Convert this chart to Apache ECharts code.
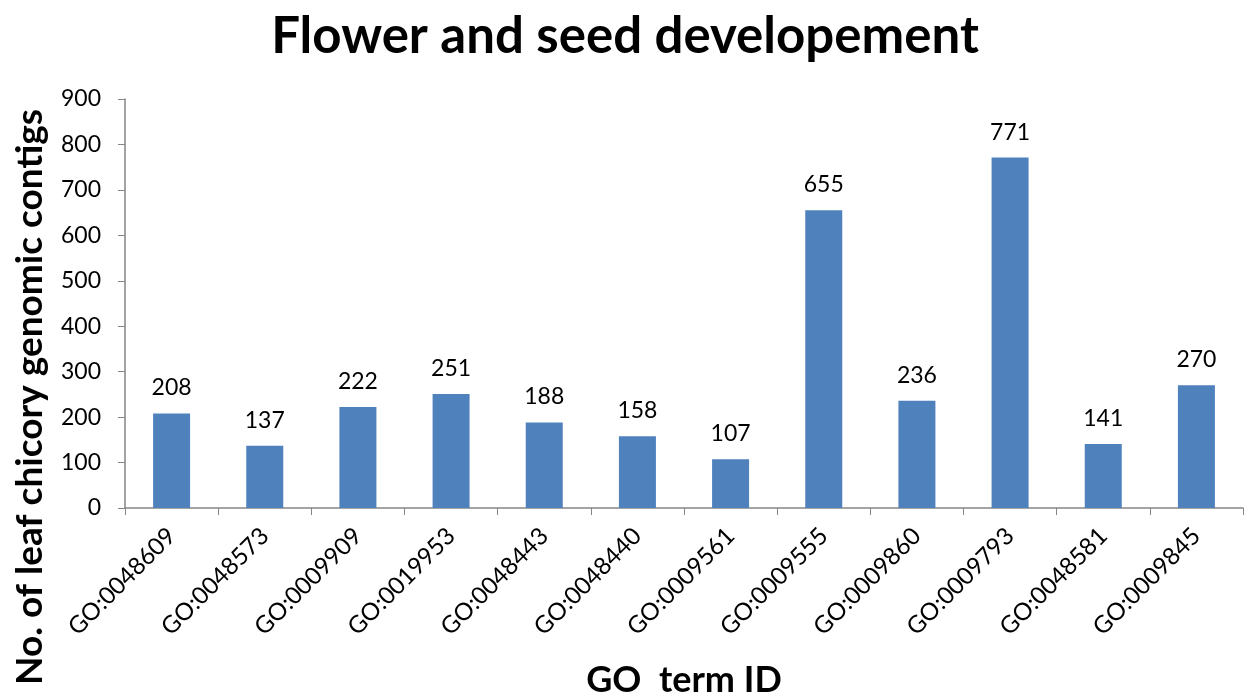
<!DOCTYPE html>
<html>
<head>
<meta charset="utf-8">
<script src="https://cdn.jsdelivr.net/npm/echarts@6/dist/echarts.min.js"></script>
<style>
  html, body { margin: 0; padding: 0; background: #fff; }
  #chart { width: 1249px; height: 700px; }
</style>
</head>
<body>
<div id="chart"></div>
<script>
// GO terms on the x axis
const categories = [
  "GO:0048609", "GO:0048573", "GO:0009909", "GO:0019953",
  "GO:0048443", "GO:0048440", "GO:0009561", "GO:0009555",
  "GO:0009860", "GO:0009793", "GO:0048581", "GO:0009845"
];
// contig counts
const contigs = [208, 137, 222, 251, 188, 158, 107, 655, 236, 771, 141, 270];

const font = "Lato, 'Open Sans', sans-serif";
const axisGrey = "#868686";

const chart = echarts.init(document.getElementById("chart"));

chart.setOption({
  animation: false,
  title: {
    text: "Flower and seed developement",
    left: 620,
    top: 6,
    textAlign: "center",
    textStyle: { fontFamily: font, fontWeight: "bold", fontSize: 51, color: "#000" }
  },
  grid: { left: 125, right: 6, top: 99, bottom: 192, containLabel: false, outerBoundsMode: "none" },
  xAxis: {
    type: "category",
    data: categories,
    name: "GO  term ID",
    nameLocation: "middle",
    nameGap: 154,
    nameTextStyle: { fontFamily: font, fontWeight: "bold", fontSize: 36, color: "#000" },
    axisLine: { lineStyle: { color: axisGrey, width: 1.5 } },
    axisTick: { show: true, alignWithLabel: false, length: 7, lineStyle: { color: axisGrey } },
    axisLabel: { rotate: 45, fontFamily: font, fontSize: 24, color: "#000", margin: 24 }
  },
  yAxis: {
    type: "value",
    min: 0,
    max: 900,
    interval: 100,
    axisLine: { show: true, lineStyle: { color: axisGrey, width: 1.5 } },
    axisTick: { show: true, length: 7, lineStyle: { color: axisGrey } },
    splitLine: { show: false },
    axisLabel: { fontFamily: font, fontSize: 23, color: "#000", margin: 24 }
  },
  graphic: [{
    type: "text",
    x: 30,
    y: 397,
    rotation: Math.PI / 2,
    style: {
      text: "No. of leaf chicory genomic contigs",
      fontFamily: font,
      fontWeight: "bold",
      fontSize: 37,
      fill: "#000",
      align: "center",
      verticalAlign: "middle"
    }
  }],
  series: [{
    type: "bar",
    data: contigs,
    barWidth: 37,
    itemStyle: { color: "#4F81BD" },
    label: {
      show: true,
      position: "top",
      distance: 14,
      fontFamily: font,
      fontSize: 23,
      color: "#000"
    }
  }]
});
</script>
</body>
</html>
